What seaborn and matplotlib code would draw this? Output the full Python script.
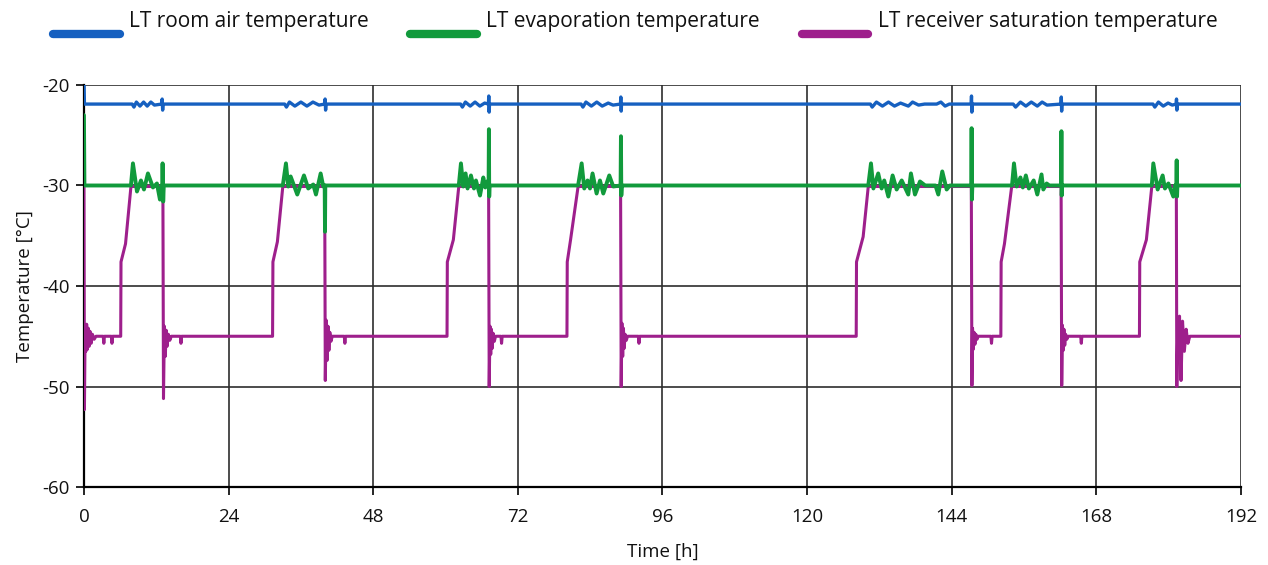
import numpy as np
import pandas as pd
import matplotlib
matplotlib.use("Agg")
import matplotlib.pyplot as plt
import matplotlib.transforms as mtransforms
import seaborn as sns

# values (time in h, temperature in degC)
room_t = [0.0, 0.08, 8.0, 8.3, 8.7, 9.3, 9.9, 10.5, 11.1, 11.7, 12.9, 12.98, 13.06, 13.14,
          33.3, 33.6, 34.1, 35.0, 36.0, 37.0, 38.0, 39.0, 39.95, 40.02, 40.1, 40.18,
          62.5, 62.8, 63.3, 64.1, 64.9, 65.7, 66.5, 67.12, 67.18, 67.24, 67.3,
          82.5, 82.8, 83.3, 84.2, 85.1, 86.0, 87.0, 87.8, 89.03, 89.09, 89.15, 89.21,
          130.5, 130.8, 131.5, 132.5, 133.5, 134.5, 135.5, 136.8, 137.5, 138.5, 139.5,
          141.5, 142.2, 142.9, 143.6, 147.22, 147.28, 147.34, 147.4,
          154.2, 154.6, 155.4, 156.3, 157.2, 158.2, 159.0, 159.8, 162.12, 162.18, 162.24, 162.3,
          177.4, 177.7, 178.3, 179.1, 179.9, 180.6, 181.24, 181.3, 181.36, 181.42, 192.0]
room_v = [-19.0, -21.9, -21.9, -22.2, -21.7, -22.1, -21.7, -22.1, -21.7, -22.0, -21.9, -21.4, -22.5, -21.9,
          -21.9, -22.2, -21.7, -22.1, -21.7, -22.1, -21.7, -22.0, -21.9, -21.4, -22.5, -21.9,
          -21.9, -22.2, -21.7, -22.1, -21.7, -22.1, -21.8, -21.9, -21.1, -22.7, -21.9,
          -21.9, -22.2, -21.7, -22.1, -21.7, -22.1, -21.8, -22.0, -21.9, -21.2, -22.6, -21.9,
          -21.9, -22.2, -21.7, -22.1, -21.7, -22.1, -21.8, -22.1, -21.7, -22.0, -21.9,
          -21.9, -21.7, -22.1, -21.9, -21.9, -21.1, -22.7, -21.9,
          -21.9, -22.2, -21.7, -22.1, -21.7, -22.1, -21.7, -22.0, -21.9, -21.2, -22.6, -21.9,
          -21.9, -22.2, -21.7, -22.1, -21.8, -22.0, -21.9, -21.4, -22.5, -21.9, -21.9]

evap_t = [0.0, 0.08, 7.8, 8.13, 8.8, 9.46, 9.96, 10.62, 11.45, 12.11, 12.61, 12.9, 13.0, 13.05, 13.15, 13.25,
          33.0, 33.52, 33.9, 34.3, 35.4, 36.51, 37.22, 38.05, 38.5, 39.28, 39.71, 39.95, 40.0, 40.05,
          62.2, 62.56, 62.94, 63.33, 63.66, 64.22, 64.72, 65.05, 65.72, 66.27, 66.6, 66.9, 67.15, 67.2, 67.25, 67.3,
          82.0, 82.59, 83.02, 83.57, 83.97, 84.4, 85.07, 85.63, 86.18, 87.17, 87.83, 89.05, 89.11, 89.17, 89.25,
          130.15, 130.6, 131.0, 131.8, 132.37, 132.8, 133.48, 134.19, 134.86, 135.7, 136.79, 137.23, 137.9,
          138.73, 139.6, 141.3, 141.77, 142.43, 143.16, 143.7, 147.25, 147.3, 147.35, 147.42,
          154.0, 154.33, 154.77, 155.4, 155.8, 156.3, 156.8, 157.6, 158.2, 158.9, 159.2, 159.75, 160.2,
          162.15, 162.2, 162.25, 162.3,
          177.2, 177.45, 178.17, 179.0, 179.38, 179.95, 180.77, 181.05, 181.27, 181.33, 181.39, 181.45, 192.0]
evap_v = [-23.0, -30.0, -30.0, -27.8, -30.6, -29.5, -30.4, -28.8, -30.2, -29.8, -31.4, -30.0, -30.0, -27.8, -31.6, -30.0,
          -30.0, -27.8, -30.1, -29.1, -30.9, -29.0, -30.3, -29.9, -30.9, -28.8, -30.1, -30.0, -34.6, -30.0,
          -30.0, -27.8, -30.1, -28.8, -30.3, -29.0, -30.3, -29.5, -31.0, -29.2, -30.2, -29.6, -30.0, -24.4, -31.1, -30.0,
          -30.0, -27.8, -30.3, -29.5, -30.3, -28.8, -30.8, -29.5, -30.8, -29.0, -30.1, -30.0, -25.1, -31.0, -30.0,
          -30.0, -27.8, -30.3, -28.8, -30.3, -29.5, -31.1, -29.0, -30.4, -29.5, -30.9, -28.8, -30.9,
          -29.6, -30.0, -30.0, -30.9, -28.6, -30.4, -30.0, -30.0, -24.3, -31.4, -30.0,
          -30.0, -27.8, -30.1, -29.2, -30.2, -29.0, -30.3, -29.5, -30.9, -28.9, -30.4, -29.8, -30.0,
          -30.0, -24.6, -31.0, -30.0,
          -30.0, -27.8, -30.4, -29.0, -30.3, -29.8, -31.1, -30.0, -30.0, -27.5, -31.1, -30.0, -30.0]

recv_t = [0.0, 0.08, 0.2, 0.32, 0.45, 0.58, 0.72, 0.86, 1.0, 1.2, 1.4, 1.7, 2.0, 3.2, 3.3, 3.4, 4.55, 4.65, 4.75,
          6.1, 6.15, 6.9, 7.8, 13.1, 13.2, 13.35, 13.5, 13.65, 13.8, 14.0, 14.25, 14.5, 16.0, 16.1, 16.2,
          31.3, 31.36, 32.1, 33.0, 39.95, 40.05, 40.2, 40.35, 40.5, 40.65, 40.8, 41.0, 41.2, 43.2, 43.3, 43.4,
          60.25, 60.3, 61.3, 62.2, 67.15, 67.25, 67.38, 67.5, 67.62, 67.75, 67.9, 68.1, 68.3, 69.2, 69.3, 69.4,
          80.15, 80.2, 80.75, 82.0, 89.05, 89.15, 89.27, 89.4, 89.52, 89.65, 89.8, 90.0, 90.2, 92.0, 92.1, 92.2,
          128.15, 128.2, 129.3, 130.15, 147.25, 147.35, 147.45, 147.57, 147.7, 147.85, 148.0, 148.2, 148.4,
          150.5, 150.6, 150.7,
          152.15, 152.2, 152.75, 153.95, 162.15, 162.25, 162.37, 162.5, 162.62, 162.75, 162.9, 163.1, 163.3,
          165.4, 165.5, 165.6,
          175.15, 175.2, 176.3, 177.2, 181.27, 181.35, 181.5, 181.8, 182.05, 182.3, 182.6, 182.9, 183.2, 183.5, 192.0]
recv_v = [-30.0, -52.3, -44.0, -46.5, -43.8, -46.3, -44.2, -46.0, -44.5, -45.7, -44.8, -45.3, -45.0, -45.0, -45.7, -45.0, -45.0, -45.7, -45.0,
          -45.0, -37.6, -35.8, -30.1, -30.1, -51.2, -44.0, -47.0, -44.4, -46.0, -44.8, -45.4, -45.0, -45.0, -45.7, -45.0,
          -45.0, -37.6, -35.6, -30.1, -30.1, -49.4, -43.4, -47.4, -44.0, -46.4, -44.6, -45.5, -45.0, -45.0, -45.7, -45.0,
          -45.0, -37.6, -35.4, -30.1, -30.1, -50.0, -44.0, -46.8, -44.3, -46.2, -44.7, -45.5, -45.0, -45.0, -45.7, -45.0,
          -45.0, -37.6, -35.4, -30.1, -30.1, -50.0, -43.7, -47.0, -44.2, -46.2, -44.8, -45.4, -45.0, -45.0, -45.7, -45.0,
          -45.0, -37.6, -35.1, -30.1, -30.1, -49.9, -44.2, -46.3, -44.6, -45.8, -44.8, -45.3, -45.0,
          -45.0, -45.7, -45.0,
          -45.0, -37.6, -35.8, -30.1, -30.1, -49.9, -43.9, -46.4, -44.3, -45.9, -44.8, -45.3, -45.0,
          -45.0, -45.7, -45.0,
          -45.0, -37.6, -35.4, -30.1, -30.1, -50.0, -44.5, -43.0, -49.4, -43.5, -46.5, -44.3, -45.7, -45.0, -45.0]

x_ticks = [0, 24, 48, 72, 96, 120, 144, 168, 192]
y_ticks = [-60, -50, -40, -30, -20]

sns.set_theme(style="white")
plt.rcParams["font.family"] = ["Open Sans", "DejaVu Sans"]
plt.rcParams["axes.unicode_minus"] = False

fig = plt.figure(figsize=(12.68, 5.65), dpi=100)
ax = fig.add_axes([0.0662, 0.138, 0.9125, 0.7116])

sns.lineplot(x=recv_t, y=recv_v, ax=ax, color="#9e1f8c", lw=2.2, estimator=None, sort=False,
             label="LT receiver saturation temperature", zorder=3)
sns.lineplot(x=evap_t, y=evap_v, ax=ax, color="#119a3c", lw=2.8, estimator=None, sort=False,
             label="LT evaporation temperature", zorder=4)
sns.lineplot(x=room_t, y=room_v, ax=ax, color="#1660c0", lw=2.4, estimator=None, sort=False,
             label="LT room air temperature", zorder=5)

ax.set_xlim(0, 192)
ax.set_ylim(-60, -20)
ax.set_xticks(x_ticks)
ax.set_yticks(y_ticks)
ax.grid(True, color="#2e2e2e", lw=1.2)
ax.set_axisbelow(True)
for side in ["top", "right"]:
    ax.spines[side].set_visible(False)
for side in ["left", "bottom"]:
    ax.spines[side].set_color("black")
    ax.spines[side].set_linewidth(1.6)
ax.tick_params(direction="out", length=6, width=1.2, color="black", labelsize=13.5,
               labelcolor="#111111", left=True, bottom=True)
ax.tick_params(axis="x", pad=9)
ax.tick_params(axis="y", pad=4)
ax.set_xlabel("Time [h]", fontsize=13.5, color="#111111", labelpad=12)
ax.set_ylabel("Temperature [°C]", fontsize=13.5, color="#111111", labelpad=6)

handles, labels = ax.get_legend_handles_labels()
ax.get_legend().remove()
order = [2, 1, 0]
leg = fig.legend([handles[i] for i in order], [labels[i] for i in order],
                 loc="center left", bbox_to_anchor=(0.027, 0.937), ncol=3, frameon=False,
                 fontsize=15, handlelength=3.2, handletextpad=0.45, columnspacing=2.0)
for h in leg.legend_handles:
    h.set_linewidth(6)
    h.set_solid_capstyle("round")
for txt in leg.get_texts():
    txt.set_color("#111111")
    txt.set_transform(txt.get_transform()
                      + mtransforms.ScaledTranslation(0, 10 / 72, fig.dpi_scale_trans))

fig.savefig("out.png", dpi=100)
